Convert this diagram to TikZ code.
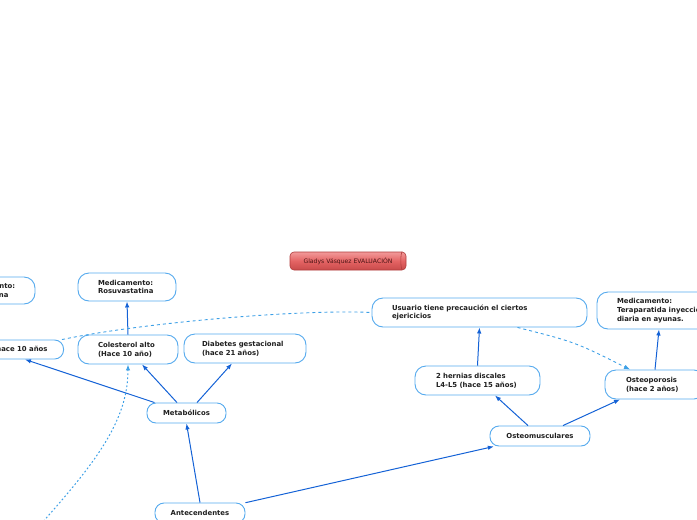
\documentclass[tikz,border=0pt]{standalone}
\usepackage{fontspec}
\setmainfont{DejaVu Sans}
\usetikzlibrary{arrows.meta}
\definecolor{nodeblue}{HTML}{55AAEE}
\definecolor{linkblue}{HTML}{1462D6}
\definecolor{relblue}{HTML}{3DA0E6}
\definecolor{titletop}{HTML}{F29A9A}
\definecolor{titlemid}{HTML}{E46464}
\definecolor{titlebot}{HTML}{C94A4A}
\definecolor{titleline}{HTML}{B03C3C}
\definecolor{titletext}{HTML}{4A1414}
\tikzset{
  topic/.style={draw=nodeblue, line width=0.9pt, fill=white, rounded corners=11pt,
    font=\bfseries\fontsize{6.9}{8.7}\selectfont, text=black!88, align=left,
    inner ysep=0pt},
  centretopic/.style={topic, align=center, rounded corners=9pt},
  link/.style={draw=linkblue, line width=1pt, -{Latex[length=6pt,width=4.5pt]}},
  rel/.style={draw=relblue, line width=0.9pt, dash pattern=on 3pt off 3pt},
  relarrow/.style={rel, -{Latex[length=6pt,width=4.5pt]}},
  reldot/.style={draw=relblue, line width=1pt, dash pattern=on 1.8pt off 2.2pt, -{Latex[length=6pt,width=4.5pt]}},
  titlebar/.style={top color=titletop, bottom color=titlebot, middle color=titlemid,
    draw=titleline, line width=0.6pt, rounded corners=4pt, text=titletext,
    font=\fontsize{6.1}{7}\selectfont, minimum width=116pt, minimum height=18pt, inner sep=0pt}
}
\begin{document}
\begin{tikzpicture}[x=1pt,y=-1pt]
\useasboundingbox (0,0) rectangle (697,520);
\clip (0,0) rectangle (697,520);

% title
\node[titlebar] (title) at (348,261) {Gladys Vásquez EVALUACIÓN};
\draw[titleline, line width=0.6pt] ([xshift=-4pt]title.north east) arc[start angle=90, end angle=270, x radius=1.5pt, y radius=9pt];

% left (clipped) nodes
\node[topic, minimum width=95pt, minimum height=27pt, text width=55pt, inner xsep=20pt] (medleft) at (-12.5,290.5) {Medicamento:\\Levotiroxina};
\node[centretopic, minimum height=19pt, inner xsep=16pt, anchor=east] (hace) at (64,349.5) {Hipotiroidismo hace 10 años};

% metabolic branch
\node[topic, minimum width=98pt, minimum height=28pt, text width=58pt, inner xsep=20pt] (rosu) at (127,287) {Medicamento:\\Rosuvastatina};
\node[topic, minimum width=100pt, minimum height=29pt, text width=60pt, inner xsep=20pt] (coles) at (128,349.5) {Colesterol alto\\(Hace 10 año)};
\node[topic, minimum width=122pt, minimum height=29pt, text width=86pt, inner xsep=18pt] (diab) at (245,348.5) {Diabetes gestacional\\(hace 21 años)};
\node[centretopic, minimum width=79pt, minimum height=20pt] (meta) at (186.5,413) {Metabólicos};
\node[centretopic, minimum width=90pt, minimum height=20pt] (ante) at (200,513) {Antecendentes};

% osteomuscular branch
\node[centretopic, minimum width=100pt, minimum height=20pt] (osteo) at (540,436) {Osteomusculares};
\node[topic, minimum width=125pt, minimum height=29pt, text width=83pt, inner xsep=21pt] (hern) at (477.5,380.5) {2 hernias discales\\L4-L5 (hace 15 años)};
\node[topic, minimum width=100pt, minimum height=29pt, text width=58pt, inner xsep=21pt] (osteop) at (655,384.5) {Osteoporosis\\(hace 2 años)};
\node[topic, minimum width=215pt, minimum height=29pt, text width=175pt, inner xsep=20pt] (usu) at (479.5,312.5) {Usuario tiene precaución el ciertos\\ejericicios};
\node[topic, minimum width=140pt, minimum height=37pt, text width=100pt, inner xsep=20pt] (tera) at (667,310.5) {Medicamento:\\Teraparatida inyección\\diaria en ayunas.};

% solid connectors
\draw[link] (ante.north) -- (meta.south);
\draw[link] (ante) -- (osteo);
\draw[link] ([xshift=8pt]meta.north west) -- ([xshift=-39pt]hace.south east);
\draw[link] ([xshift=-9.5pt]meta.north) -- ([xshift=14pt]coles.south);
\draw[link] ([xshift=10.5pt]meta.north) -- ([xshift=-13pt]diab.south);
\draw[link] (coles.north) -- (rosu.south);
\draw[link] ([xshift=-12pt]osteo.north) -- ([xshift=17.5pt]hern.south);
\draw[link] ([xshift=23pt]osteo.north) -- ([xshift=-35pt]osteop.south);
\draw[link] (hern.north) -- (usu.south);
\draw[link] (osteop.north) -- ([xshift=-8pt]tera.south);

% relationship connectors
\draw[rel] ([xshift=-2pt]hace.north east) .. controls (140,323) and (300,309) .. (usu.west);
\draw[relarrow] ([xshift=38pt]usu.south) .. controls (575,342) .. ([xshift=-25pt]osteop.north);
\coordinate (lowfree) at (22,545);
\draw[reldot] (lowfree) .. controls (90,470) and (128,425) .. (coles.south);
\end{tikzpicture}
\end{document}
